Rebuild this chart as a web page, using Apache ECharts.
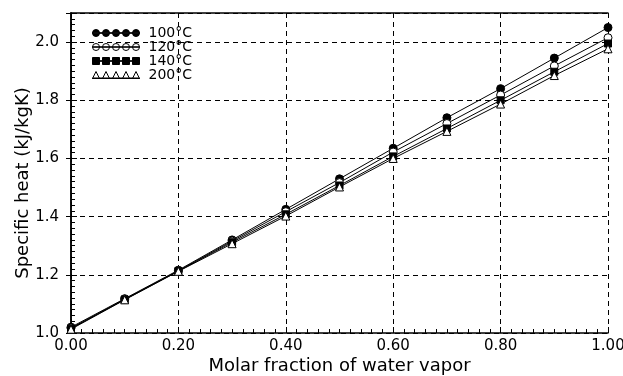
<!DOCTYPE html>
<html>
<head>
<meta charset="utf-8">
<script src="https://cdn.jsdelivr.net/npm/echarts@6/dist/echarts.min.js"></script>
<style>
  html, body { margin: 0; padding: 0; background: #fff; }
  #chart { width: 623px; height: 376px; }
</style>
</head>
<body>
<div id="chart"></div>
<script>
// molar fraction of water vapor
const fractions = [0, 0.1, 0.2, 0.3, 0.4, 0.5, 0.6, 0.7, 0.8, 0.9, 1.0];
// specific heat, kJ/kgK
const heat100 = [1.020, 1.118, 1.216, 1.320, 1.425, 1.530, 1.635, 1.740, 1.840, 1.945, 2.050];
const heat120 = [1.017, 1.116, 1.214, 1.316, 1.417, 1.517, 1.622, 1.720, 1.818, 1.918, 2.015];
const heat140 = [1.015, 1.115, 1.213, 1.312, 1.408, 1.507, 1.607, 1.703, 1.800, 1.898, 1.995];
const heat200 = [1.013, 1.114, 1.212, 1.307, 1.402, 1.502, 1.600, 1.693, 1.787, 1.885, 1.977];
const seriesNames = ['100°C', '120°C', '140°C', '200°C'];

const FONT = 'DejaVu Sans';

// legend icons: five markers on a line, like the plotted series
const joinLine = 'M0,3.25h47v0.5h-47z';
const circles5 = 'path://' + joinLine + 'M0,3.5a3.5,3.5 0 1,0 7,0a3.5,3.5 0 1,0 -7,0M10,3.5a3.5,3.5 0 1,0 7,0a3.5,3.5 0 1,0 -7,0M20,3.5a3.5,3.5 0 1,0 7,0a3.5,3.5 0 1,0 -7,0M30,3.5a3.5,3.5 0 1,0 7,0a3.5,3.5 0 1,0 -7,0M40,3.5a3.5,3.5 0 1,0 7,0a3.5,3.5 0 1,0 -7,0';
const squares5 = 'path://' + joinLine + 'M0,0h7v7h-7zM10,0h7v7h-7zM20,0h7v7h-7zM30,0h7v7h-7zM40,0h7v7h-7z';
const triangles5 = 'path://M0,6.5h47v0.5h-47zM3.5,0L7,7L0,7zM13.5,0L17,7L10,7zM23.5,0L27,7L20,7zM33.5,0L37,7L30,7zM43.5,0L47,7L40,7z';

const pair = (ys) => fractions.map((x, i) => [x, ys[i]]);

const chart = echarts.init(document.getElementById('chart'));

const mkSeries = (name, ys, symbol, fill) => ({
  name: name,
  type: 'line',
  data: pair(ys),
  symbol: symbol,
  symbolSize: symbol === 'rect' ? 7 : 8,
  showSymbol: true,
  lineStyle: { color: '#000', width: 1 },
  itemStyle: { color: fill, borderColor: '#000', borderWidth: 1 },
  emphasis: { disabled: true },
  z: 3,
});

const option = {
  backgroundColor: '#fff',
  animation: false,
  grid: { left: 71, right: 15, top: 13, bottom: 43, outerBoundsMode: 'none', containLabel: false },
  legend: {
    orient: 'vertical',
    left: 87,
    top: 21,
    itemWidth: 47,
    itemHeight: 7,
    itemGap: 0,
    textStyle: { fontFamily: FONT, fontSize: 14, color: '#000', lineHeight: 14, padding: [0, 0, 0, 4] },
    data: [
      { name: seriesNames[0], icon: circles5, itemStyle: { color: '#000', borderColor: '#000', borderWidth: 1 } },
      { name: seriesNames[1], icon: circles5, itemStyle: { color: '#fff', borderColor: '#000', borderWidth: 1 } },
      { name: seriesNames[2], icon: squares5, itemStyle: { color: '#000', borderColor: '#000', borderWidth: 1 } },
      { name: seriesNames[3], icon: triangles5, itemStyle: { color: '#fff', borderColor: '#000', borderWidth: 1 } },
    ],
  },
  xAxis: [
    {
      type: 'value',
      min: 0,
      max: 1,
      interval: 0.2,
      name: 'Molar fraction of water vapor',
      nameLocation: 'middle',
      nameMoveOverlap: false,
      nameGap: 24,
      nameTextStyle: { fontFamily: FONT, fontSize: 18, color: '#000' },
      axisLine: { lineStyle: { color: '#000', width: 1.5 } },
      axisTick: { show: true, inside: true, length: 6, lineStyle: { color: '#000', width: 1 } },
      minorTick: { show: true, splitNumber: 10, length: 4, lineStyle: { color: '#000', width: 1 } },
      axisLabel: {
        fontFamily: FONT, fontSize: 15, color: '#000', margin: 6,
        formatter: (v) => v.toFixed(2),
      },
      splitLine: { show: true, lineStyle: { color: '#000', type: [5, 4], width: 1 } },
    },
    {
      type: 'value',
      position: 'top',
      min: 0,
      max: 1,
      interval: 0.2,
      axisLine: { show: true, lineStyle: { color: '#000', width: 1.5 } },
      axisTick: { show: false },
      axisLabel: { show: false },
      splitLine: { show: false },
    },
  ],
  yAxis: [
    {
      type: 'value',
      min: 1.0,
      max: 2.1,
      interval: 0.2,
      name: 'Specific heat (kJ/kgK)',
      nameLocation: 'middle',
      nameMoveOverlap: false,
      nameGap: 39,
      nameTextStyle: { fontFamily: FONT, fontSize: 18, color: '#000', padding: [0, 20, 0, 0] },
      axisLine: { show: true, lineStyle: { color: '#000', width: 1.5 } },
      axisTick: { show: true, inside: true, length: 6, lineStyle: { color: '#000', width: 1 } },
      minorTick: { show: true, splitNumber: 10, length: 4, lineStyle: { color: '#000', width: 1 } },
      axisLabel: {
        fontFamily: FONT, fontSize: 15, color: '#000', margin: 12,
        showMaxLabel: false,
        formatter: (v) => v.toFixed(1),
      },
      splitLine: { show: true, lineStyle: { color: '#000', type: [5, 4], width: 1 } },
    },
    {
      type: 'value',
      position: 'right',
      min: 1.0,
      max: 2.1,
      interval: 0.2,
      axisLine: { show: true, lineStyle: { color: '#000', width: 1.5 } },
      axisTick: { show: true, inside: true, length: 5, lineStyle: { color: '#000' } },
      axisLabel: { show: false },
      splitLine: { show: false },
    },
  ],
  series: [
    mkSeries(seriesNames[0], heat100, 'circle', '#000'),
    mkSeries(seriesNames[1], heat120, 'circle', '#fff'),
    mkSeries(seriesNames[2], heat140, 'rect', '#000'),
    mkSeries(seriesNames[3], heat200, 'triangle', '#fff'),
  ],
};

chart.setOption(option);
</script>
</body>
</html>
